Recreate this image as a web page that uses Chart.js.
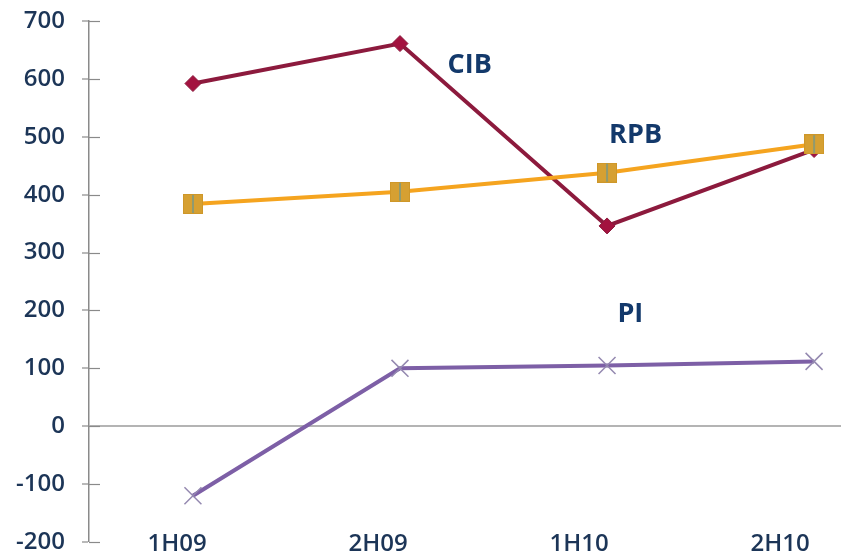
<!DOCTYPE html>
<html>
<head>
<meta charset="utf-8">
<script src="https://cdn.jsdelivr.net/npm/chart.js@4"></script>
<style>
  html, body { margin: 0; padding: 0; background: #ffffff; }
  #wrap { width: 841px; height: 551px; }
</style>
</head>
<body>
<div id="wrap"><canvas id="c" width="841" height="551"></canvas></div>
<script>
// Half-year periods
const periods = ['1H09', '2H09', '1H10', '2H10'];

// Segment results
const cib = [592, 661, 346, 478];
const rpb = [384, 405, 438, 487];
const pi  = [-120, 100, 105, 112];

// Value axis ticks
const yTicks = [700, 600, 500, 400, 300, 200, 100, 0, -100, -200];

// Series names written next to the lines, anchored in data space
const seriesNames = ['CIB', 'RPB', 'PI'];
const nameAnchors = [
  { x: 1.23, y: 611 },
  { x: 2.01, y: 490 },
  { x: 2.05, y: 180 }
];

const toPoints = arr => arr.map((v, i) => ({ x: i, y: v }));
const noPad = s => { s.paddingLeft = 0; s.paddingRight = 0; s.paddingTop = 0; s.paddingBottom = 0; };

// Square marker with a thin centre stripe
function squareMarker() {
  const c = document.createElement('canvas');
  c.width = 20; c.height = 20;
  const g = c.getContext('2d');
  g.fillStyle = '#d6a032';
  g.fillRect(0, 0, 20, 20);
  g.strokeStyle = 'rgba(205,150,40,0.9)';
  g.lineWidth = 1;
  g.strokeRect(0.5, 0.5, 19, 19);
  g.strokeStyle = '#8f9a70';
  g.lineWidth = 2;
  g.beginPath(); g.moveTo(10, 1); g.lineTo(10, 19); g.stroke();
  return c;
}

const TEXT = '#1c3557';

// Short tick stubs on the inner side of the value axis
const innerTicks = {
  id: 'innerTicks',
  beforeDatasetsDraw(chart) {
    const y = chart.scales.y, ctx = chart.ctx, left = chart.chartArea.left;
    ctx.save();
    ctx.strokeStyle = '#8a8a8a';
    ctx.lineWidth = 1.2;
    y.ticks.forEach(t => {
      const py = Math.round(y.getPixelForValue(t.value)) + 0.5;
      ctx.beginPath(); ctx.moveTo(left, py); ctx.lineTo(left + 11, py); ctx.stroke();
    });
    ctx.restore();
  }
};

// Series names beside their lines
const seriesLabels = {
  id: 'seriesLabels',
  afterDatasetsDraw(chart) {
    const ctx = chart.ctx, xs = chart.scales.x, ys = chart.scales.y;
    ctx.save();
    ctx.fillStyle = '#13396b';
    ctx.font = 'bold 27px "Open Sans"';
    ctx.textAlign = 'left';
    ctx.textBaseline = 'alphabetic';
    seriesNames.forEach((n, i) => {
      const a = nameAnchors[i];
      ctx.fillText(n, xs.getPixelForValue(a.x), ys.getPixelForValue(a.y));
    });
    ctx.restore();
  }
};

new Chart(document.getElementById('c'), {
  type: 'line',
  data: {
    datasets: [
      {
        label: 'RPB', data: toPoints(rpb), order: 1,
        borderColor: '#f5a41f', borderWidth: 4,
        pointStyle: squareMarker(), pointRadius: 10,
        backgroundColor: '#d6a032'
      },
      {
        label: 'CIB', data: toPoints(cib), order: 2,
        borderColor: '#8c1a3d', borderWidth: 4,
        pointStyle: 'rectRot', pointRadius: 8,
        pointBackgroundColor: '#a3123f', pointBorderColor: '#8c1a3d', pointBorderWidth: 1
      },
      {
        label: 'PI', data: toPoints(pi), order: 3,
        borderColor: '#7d5fa6', borderWidth: 4,
        pointStyle: 'crossRot', pointRadius: 12,
        pointBorderColor: '#9489b0', pointBorderWidth: 1.5
      }
    ]
  },
  options: {
    responsive: false,
    animation: false,
    devicePixelRatio: 1,
    clip: false,
    layout: { autoPadding: false, padding: { top: 21, right: 0, bottom: 0, left: 0 } },
    plugins: { legend: { display: false }, tooltip: { enabled: false } },
    elements: { line: { tension: 0 } },
    scales: {
      x: {
        type: 'linear', display: false, min: -0.502, max: 3.13,
        afterFit: noPad
      },
      xLabels: {
        type: 'linear', position: 'bottom', min: -0.438, max: 3.303,
        afterBuildTicks: s => { s.ticks = periods.map((_, i) => ({ value: i })); },
        afterFit: s => { s.height = 9; noPad(s); },
        grid: { display: false, drawTicks: false },
        border: { display: false },
        ticks: {
          autoSkip: false, maxRotation: 0, mirror: true, padding: -17,
          color: TEXT, font: { family: 'Open Sans', size: 24, weight: '600' },
          callback: v => periods[v]
        }
      },
      y: {
        min: -200, max: 700,
        afterBuildTicks: s => { s.ticks = yTicks.map(v => ({ value: v })); },
        afterFit: s => { s.width = 89; noPad(s); },
        border: { display: true, color: '#8a8a8a', width: 1.5 },
        grid: {
          color: c => (c.tick && c.tick.value === 0) ? '#b4b4b4' : 'rgba(0,0,0,0)',
          lineWidth: c => (c.tick && c.tick.value === 0) ? 2 : 0,
          tickColor: '#8a8a8a', tickWidth: 1.2, tickLength: 7, drawTicks: true
        },
        ticks: {
          padding: 17, color: TEXT,
          font: { family: 'Open Sans', size: 24, weight: '600' }
        }
      }
    }
  },
  plugins: [innerTicks, seriesLabels]
});
</script>
</body>
</html>
